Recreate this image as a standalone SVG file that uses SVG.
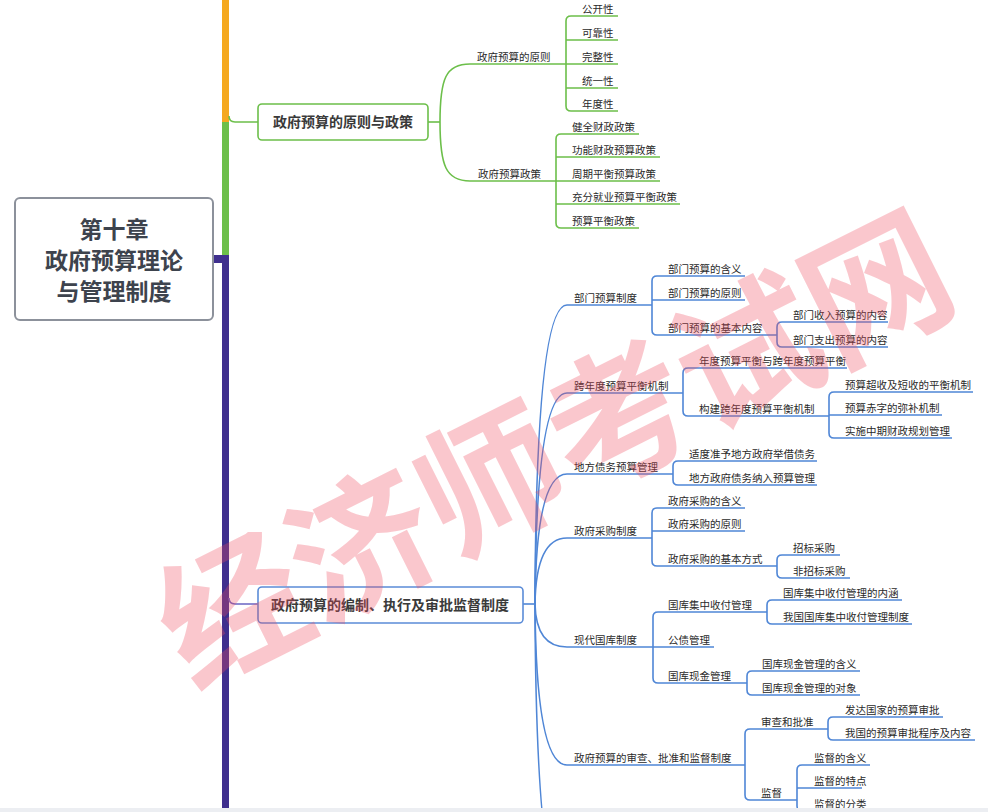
<svg xmlns="http://www.w3.org/2000/svg" width="988" height="812" viewBox="0 0 988 812">
<style>
text{font-family:"Noto Sans CJK SC","Noto Sans",sans-serif}
.t{font-size:10.5px;fill:#2a2a2a}
.h{font-size:14px;font-weight:bold;fill:#3a3a3a}
.g{fill:none;stroke:#6cbf4a;stroke-width:1.6}
.b{fill:none;stroke:#4f86d6;stroke-width:1.6}
</style>
<rect width="988" height="812" fill="#fff"/>
<g id="connectors">
<rect x="222" y="0" width="7" height="125" fill="#f5a81e"/>
<rect x="222" y="122" width="7" height="135" fill="#6cbf4a"/>
<rect x="213" y="255" width="16" height="8" fill="#3f2f8e"/>
<rect x="222" y="255" width="7" height="557" fill="#3f2f8e"/>
<path class="g" d="M229,116 Q229,122 235,122 H258"/>
<path d="M229,598 Q229,604 235,604 H258" fill="none" stroke="#6a66c4" stroke-width="1.6"/>
<path class="g" d="M428,122 H440"/>
<path class="g" d="M440,122 C440,78 446,64 470,64 H566"/>
<path class="g" d="M440,122 C440,166 446,181 470,181 H556"/>
<path class="g" d="M618,16 H571 Q566,16 566,21 V106 Q566,111 571,111 H618 M566,40 H618 M566,64 H618 M566,88 H618"/>
<path class="g" d="M639,134 H561 Q556,134 556,139 V223 Q556,228 561,228 H639 M556,157 H660 M556,181 H660 M556,204 H680"/>
<path class="b" d="M523,604 H535"/>
<path class="b" d="M535,604 Q536,305 567,305 H652"/>
<path class="b" d="M535,604 Q536,393 567,393 H683"/>
<path class="b" d="M535,604 Q536,474 567,474 H673"/>
<path class="b" d="M535,604 Q536,538 567,538 H652"/>
<path class="b" d="M535,604 Q536,647 567,647 H653"/>
<path class="b" d="M535,604 Q536,765 567,765 H745"/>
<path class="b" d="M535,604 Q536,900 567,900"/>
<path class="b" d="M745,276 H657 Q652,276 652,281 V330 Q652,335 657,335 H777 M652,300 H745"/>
<path class="b" d="M888,322 H782 Q777,322 777,327 V342 Q777,347 782,347 H888"/>
<path class="b" d="M847,368 H688 Q683,368 683,373 V411 Q683,416 688,416 H829"/>
<path class="b" d="M973,392 H834 Q829,392 829,397 V433 Q829,438 834,438 H952 M829,415 H942"/>
<path class="b" d="M817,461 H678 Q673,461 673,466 V480 Q673,485 678,485 H817"/>
<path class="b" d="M745,508 H657 Q652,508 652,513 V561 Q652,566 657,566 H777 M652,531 H745"/>
<path class="b" d="M840,555 H782 Q777,555 777,560 V573 Q777,578 782,578 H850"/>
<path class="b" d="M767,612 H658 Q653,612 653,617 V678 Q653,683 658,683 H747 M653,647 H714"/>
<path class="b" d="M902,600 H772 Q767,600 767,605 V619 Q767,624 772,624 H912"/>
<path class="b" d="M860,671 H752 Q747,671 747,676 V690 Q747,695 752,695 H860"/>
<path class="b" d="M828,729 H750 Q745,729 745,734 V795 Q745,800 750,800 H797"/>
<path class="b" d="M943,717 H833 Q828,717 828,722 V735 Q828,740 833,740 H975"/>
<path class="b" d="M870,765 H802 Q797,765 797,770 V806 Q797,811 802,811 H860 M797,788 H862"/>
</g>
<g id="root">
<rect x="15" y="198" width="198" height="122" rx="5" fill="#fff" stroke="#8c919b" stroke-width="2"/>
<text x="114" y="238" text-anchor="middle" font-size="23" font-weight="bold" fill="#3d434d">第十章</text>
<text x="114" y="269" text-anchor="middle" font-size="23" font-weight="bold" fill="#3d434d">政府预算理论</text>
<text x="114" y="300" text-anchor="middle" font-size="23" font-weight="bold" fill="#3d434d">与管理制度</text>
</g>
<g id="branch1">
<rect x="258" y="104" width="170" height="36" rx="4" fill="#fff" stroke="#6cbf4a" stroke-width="1.6"/>
<text class="h" x="343" y="127" text-anchor="middle">政府预算的原则与政策</text>
</g>
<g id="b1-principles"><text class="t" x="477" y="60.5">政府预算的原则</text></g>
<g id="b1-p1"><text class="t" x="582" y="12.5">公开性</text></g>
<g id="b1-p2"><text class="t" x="582" y="36.5">可靠性</text></g>
<g id="b1-p3"><text class="t" x="582" y="60.5">完整性</text></g>
<g id="b1-p4"><text class="t" x="582" y="84.5">统一性</text></g>
<g id="b1-p5"><text class="t" x="582" y="107.5">年度性</text></g>
<g id="b1-policy"><text class="t" x="478" y="177.5">政府预算政策</text></g>
<g id="b1-q1"><text class="t" x="572" y="130.5">健全财政政策</text></g>
<g id="b1-q2"><text class="t" x="572" y="153.5">功能财政预算政策</text></g>
<g id="b1-q3"><text class="t" x="572" y="177.5">周期平衡预算政策</text></g>
<g id="b1-q4"><text class="t" x="572" y="200.5">充分就业预算平衡政策</text></g>
<g id="b1-q5"><text class="t" x="572" y="224.5">预算平衡政策</text></g>
<g id="branch2">
<rect x="258" y="587" width="265" height="36" rx="4" fill="#fff" stroke="#5b8cd8" stroke-width="1.6"/>
<text class="h" x="390" y="610" text-anchor="middle">政府预算的编制、执行及审批监督制度</text>
</g>
<g id="s1"><text class="t" x="574" y="301.5">部门预算制度</text></g>
<g id="s1a"><text class="t" x="668" y="272.5">部门预算的含义</text></g>
<g id="s1b"><text class="t" x="668" y="296.5">部门预算的原则</text></g>
<g id="s1c"><text class="t" x="668" y="331.5">部门预算的基本内容</text></g>
<g id="s1c1"><text class="t" x="793" y="318.5">部门收入预算的内容</text></g>
<g id="s1c2"><text class="t" x="793" y="343.5">部门支出预算的内容</text></g>
<g id="s2"><text class="t" x="574" y="389.5">跨年度预算平衡机制</text></g>
<g id="s2a"><text class="t" x="699" y="364.5">年度预算平衡与跨年度预算平衡</text></g>
<g id="s2b"><text class="t" x="699" y="412.5">构建跨年度预算平衡机制</text></g>
<g id="s2b1"><text class="t" x="845" y="388.5">预算超收及短收的平衡机制</text></g>
<g id="s2b2"><text class="t" x="845" y="411.5">预算赤字的弥补机制</text></g>
<g id="s2b3"><text class="t" x="845" y="434.5">实施中期财政规划管理</text></g>
<g id="s3"><text class="t" x="574" y="470.5">地方债务预算管理</text></g>
<g id="s3a"><text class="t" x="689" y="457.5">适度准予地方政府举借债务</text></g>
<g id="s3b"><text class="t" x="689" y="481.5">地方政府债务纳入预算管理</text></g>
<g id="s4"><text class="t" x="574" y="534.5">政府采购制度</text></g>
<g id="s4a"><text class="t" x="668" y="504.5">政府采购的含义</text></g>
<g id="s4b"><text class="t" x="668" y="527.5">政府采购的原则</text></g>
<g id="s4c"><text class="t" x="668" y="562.5">政府采购的基本方式</text></g>
<g id="s4c1"><text class="t" x="793" y="551.5">招标采购</text></g>
<g id="s4c2"><text class="t" x="793" y="574.5">非招标采购</text></g>
<g id="s5"><text class="t" x="574" y="643.5">现代国库制度</text></g>
<g id="s5a"><text class="t" x="668" y="608.5">国库集中收付管理</text></g>
<g id="s5a1"><text class="t" x="783" y="596.5">国库集中收付管理的内涵</text></g>
<g id="s5a2"><text class="t" x="783" y="620.5">我国国库集中收付管理制度</text></g>
<g id="s5b"><text class="t" x="668" y="643.5">公债管理</text></g>
<g id="s5c"><text class="t" x="668" y="679.5">国库现金管理</text></g>
<g id="s5c1"><text class="t" x="762" y="667.5">国库现金管理的含义</text></g>
<g id="s5c2"><text class="t" x="762" y="691.5">国库现金管理的对象</text></g>
<g id="s6"><text class="t" x="574" y="761.5">政府预算的审查、批准和监督制度</text></g>
<g id="s6a"><text class="t" x="761" y="725.5">审查和批准</text></g>
<g id="s6a1"><text class="t" x="845" y="713.5">发达国家的预算审批</text></g>
<g id="s6a2"><text class="t" x="845" y="736.5">我国的预算审批程序及内容</text></g>
<g id="s6b"><text class="t" x="761" y="796.5">监督</text></g>
<g id="s6b1"><text class="t" x="814" y="761.5">监督的含义</text></g>
<g id="s6b2"><text class="t" x="814" y="784.5">监督的特点</text></g>
<g id="s6b3"><text class="t" x="814" y="807.5">监督的分类</text></g>
<text transform="translate(550,440) rotate(-26.6)" text-anchor="middle" dominant-baseline="central" font-size="144" font-weight="bold" fill="#f04a5e" opacity="0.3">经济师考试网</text>
<rect x="0" y="808" width="988" height="4" fill="#eceef2"/>
</svg>
